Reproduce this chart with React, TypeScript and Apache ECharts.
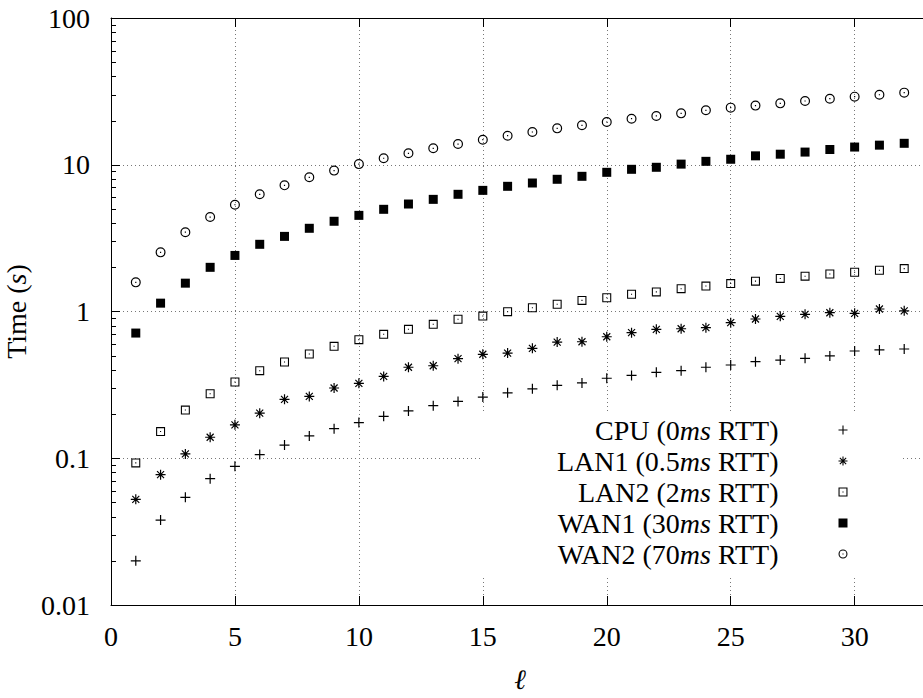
import React, { useEffect, useRef } from "react";
import * as echarts from "echarts";

const ell = [1, 2, 3, 4, 5, 6, 7, 8, 9, 10, 11, 12, 13, 14, 15, 16, 17, 18, 19, 20, 21, 22, 23, 24, 25, 26, 27, 28, 29, 30, 31, 32];

const cpu = [0.020, 0.0379, 0.0542, 0.0726, 0.0881, 0.106, 0.123, 0.142, 0.159, 0.175, 0.193, 0.210, 0.228, 0.244, 0.261, 0.279, 0.297, 0.314, 0.326, 0.351, 0.367, 0.385, 0.395, 0.417, 0.432, 0.455, 0.467, 0.480, 0.498, 0.538, 0.547, 0.555];
const lan1 = [0.0525, 0.0773, 0.107, 0.139, 0.169, 0.203, 0.252, 0.264, 0.301, 0.324, 0.361, 0.417, 0.427, 0.477, 0.511, 0.521, 0.561, 0.619, 0.622, 0.673, 0.717, 0.756, 0.763, 0.776, 0.839, 0.889, 0.927, 0.957, 0.981, 0.972, 1.04, 1.01];
const lan2 = [0.093, 0.152, 0.213, 0.275, 0.331, 0.395, 0.453, 0.513, 0.579, 0.643, 0.699, 0.756, 0.818, 0.885, 0.931, 0.997, 1.06, 1.12, 1.19, 1.24, 1.31, 1.36, 1.43, 1.49, 1.55, 1.61, 1.68, 1.74, 1.80, 1.85, 1.91, 1.96];
const wan1 = [0.713, 1.14, 1.56, 2.0, 2.41, 2.87, 3.25, 3.69, 4.12, 4.52, 4.97, 5.40, 5.81, 6.29, 6.69, 7.13, 7.51, 7.96, 8.34, 8.88, 9.31, 9.61, 10.1, 10.55, 10.9, 11.5, 11.8, 12.2, 12.7, 13.2, 13.6, 14.0];
const wan2 = [1.58, 2.53, 3.47, 4.40, 5.34, 6.29, 7.24, 8.21, 9.12, 10.1, 11.07, 11.97, 12.94, 13.84, 14.82, 15.77, 16.72, 17.7, 18.57, 19.55, 20.6, 21.5, 22.4, 23.5, 24.5, 25.3, 26.2, 27.2, 28.2, 29.1, 30.0, 31.0];

const seriesNames = ["CPU", "LAN1", "LAN2", "WAN1", "WAN2"];
const legendLabels = [
  ["CPU (0", "ms", " RTT)"],
  ["LAN1 (0.5", "ms", " RTT)"],
  ["LAN2 (2", "ms", " RTT)"],
  ["WAN1 (30", "ms", " RTT)"],
  ["WAN2 (70", "ms", " RTT)"],
];

const xTickValues = [0, 5, 10, 15, 20, 25, 30];
const xTickLabels = ["0", "5", "10", "15", "20", "25", "30"];
const yTickValues = [0.01, 0.1, 1, 10, 100];
const yTickLabels = ["0.01", "0.1", "1", "10", "100"];
const yMinorDecades = [0.01, 0.1, 1, 10];
const yMinorMultipliers = [2, 3, 4, 5, 6, 7, 8, 9];

const FONT = "Liberation Serif";

const SYM_PLUS = "path://M0,4.4L10,4.4L10,5.6L0,5.6ZM4.4,0L5.6,0L5.6,10L4.4,10Z";
const SYM_STAR =
  "path://M0,4.4L10,4.4L10,5.6L0,5.6ZM4.4,0L5.6,0L5.6,10L4.4,10ZM1.92,1.08L8.92,8.08L8.08,8.92L1.08,1.92ZM1.92,8.92L1.08,8.08L8.08,1.08L8.92,1.92Z";
const SYM_BOXDOT = "path://M0,0L10,0L10,10L0,10ZM1.2,1.2L1.2,8.8L8.8,8.8L8.8,1.2ZM4.4,4.4L5.6,4.4L5.6,5.6L4.4,5.6Z";
const SYM_CIRCDOT =
  "path://M5,0A5,5,0,1,1,5,10A5,5,0,1,1,5,0ZM5,1.2A3.8,3.8,0,1,0,5,8.8A3.8,3.8,0,1,0,5,1.2ZM4.4,4.4L5.6,4.4L5.6,5.6L4.4,5.6Z";

const seriesData = [cpu, lan1, lan2, wan1, wan2];
const seriesSymbols = [SYM_PLUS, SYM_STAR, SYM_BOXDOT, "rect", SYM_CIRCDOT];
const seriesSizes = [10, 10, 9, 9, 10];

export default function App() {
  const ref = useRef<HTMLDivElement>(null);

  useEffect(() => {
    if (!ref.current) return;
    const chart = echarts.init(ref.current, undefined, { renderer: "svg" });

    const minorData: number[][] = [];
    yMinorDecades.forEach((d) => yMinorMultipliers.forEach((m) => minorData.push([0, d * m])));

    const scatterSeries = seriesNames.map((name, i) => ({
      name,
      type: "scatter",
      symbol: seriesSymbols[i],
      symbolSize: seriesSizes[i],
      itemStyle: { color: "#000", borderWidth: 0, opacity: 1 },
      emphasis: { disabled: true },
      data: ell.map((x, k) => [x, seriesData[i][k]]),
      z: 3,
    }));

    const richBase = { fontFamily: FONT, fontSize: 28, color: "#000", lineHeight: 31 };

    const option: any = {
      animation: false,
      backgroundColor: "#fff",
      textStyle: { fontFamily: FONT },
      grid: {
        left: 111,
        top: 18,
        width: 818,
        height: 587,
        outerBoundsMode: "none",
        containLabel: false,
      },
      legend: {
        orient: "vertical",
        align: "right",
        right: 75.5,
        top: 414.5,
        padding: 0,
        itemGap: 0,
        itemWidth: 9,
        itemHeight: 9,
        selectedMode: false,
        data: seriesNames,
        formatter: (name: string) => {
          const idx = seriesNames.indexOf(name);
          const parts = legendLabels[idx];
          return `{r|${parts[0]}}{i|${parts[1]}}{r|${parts[2]}}`;
        },
        textStyle: {
          ...richBase,
          padding: [0, 55, 0, 0],
          rich: {
            r: { ...richBase },
            i: { ...richBase, fontStyle: "italic" },
          },
        },
      },
      graphic: [
        {
          type: "rect",
          z: 1,
          silent: true,
          shape: { x: 480, y: 413, width: 423, height: 162 },
          style: { fill: "#fff" },
        },
      ],
      xAxis: [
        {
          type: "value",
          min: 0,
          max: 33,
          interval: 5,
          position: "bottom",
          name: "ℓ",
          nameLocation: "middle",
          nameGap: 60,
          nameTextStyle: { fontFamily: FONT, fontSize: 28, color: "#000", fontStyle: "italic" },
          axisLine: { show: true, lineStyle: { color: "#000", width: 1 } },
          axisTick: { show: true, inside: true, length: 9, lineStyle: { color: "#000", width: 1 } },
          axisLabel: {
            show: true,
            margin: 17,
            showMaxLabel: false,
            fontFamily: FONT,
            fontSize: 28,
            color: "#000",
            formatter: (v: number) => {
              const idx = xTickValues.indexOf(v);
              return idx >= 0 ? xTickLabels[idx] : "";
            },
          },
          splitLine: { show: true, lineStyle: { color: "#777", width: 1, type: [1, 3] } },
        },
        {
          type: "value",
          min: 0,
          max: 33,
          interval: 5,
          position: "top",
          axisLine: { show: true, lineStyle: { color: "#000", width: 1 } },
          axisTick: { show: true, inside: true, length: 9, lineStyle: { color: "#000", width: 1 } },
          axisLabel: { show: false },
          splitLine: { show: false },
        },
      ],
      yAxis: [
        {
          type: "log",
          logBase: 10,
          min: 0.01,
          max: 100,
          interval: 1,
          name: "{a|Time (}{b|s}{a|)}",
          nameLocation: "middle",
          nameRotate: 90,
          nameGap: 68,
          nameTextStyle: {
            fontFamily: FONT,
            fontSize: 28,
            rich: {
              a: { fontFamily: FONT, fontSize: 28, color: "#000" },
              b: { fontFamily: FONT, fontSize: 28, color: "#000", fontStyle: "italic" },
            },
          },
          axisLine: { show: true, lineStyle: { color: "#000", width: 1 } },
          axisTick: { show: true, inside: true, length: 9, lineStyle: { color: "#000", width: 1 } },
          axisLabel: {
            show: true,
            margin: 21,
            fontFamily: FONT,
            fontSize: 28,
            color: "#000",
            formatter: (v: number) => {
              let best = 0;
              let bd = Infinity;
              yTickValues.forEach((t, i) => {
                const d = Math.abs(Math.log10(t) - Math.log10(v));
                if (d < bd) {
                  bd = d;
                  best = i;
                }
              });
              return bd < 0.01 ? yTickLabels[best] : "";
            },
          },
          splitLine: { show: true, lineStyle: { color: "#777", width: 1, type: [1, 3] } },
        },
      ],
      series: [
        ...scatterSeries,
        {
          name: "minorTicks",
          type: "custom",
          silent: true,
          clip: false,
          z: 4,
          xAxisIndex: 0,
          yAxisIndex: 0,
          encode: { x: 0, y: 1 },
          data: minorData,
          renderItem: (params: any, api: any) => {
            const p = api.coord([api.value(0), api.value(1)]);
            const y = Math.round(p[1]) + 0.5;
            return {
              type: "line",
              shape: { x1: p[0], y1: y, x2: p[0] + 5, y2: y },
              style: { stroke: "#000", lineWidth: 1 },
            };
          },
        },
      ],
    };

    chart.setOption(option);
    return () => chart.dispose();
  }, []);

  return (
    <div
      ref={ref}
      style={{ position: "fixed", left: 0, top: 0, width: 923, height: 698, background: "#fff" }}
    />
  );
}
